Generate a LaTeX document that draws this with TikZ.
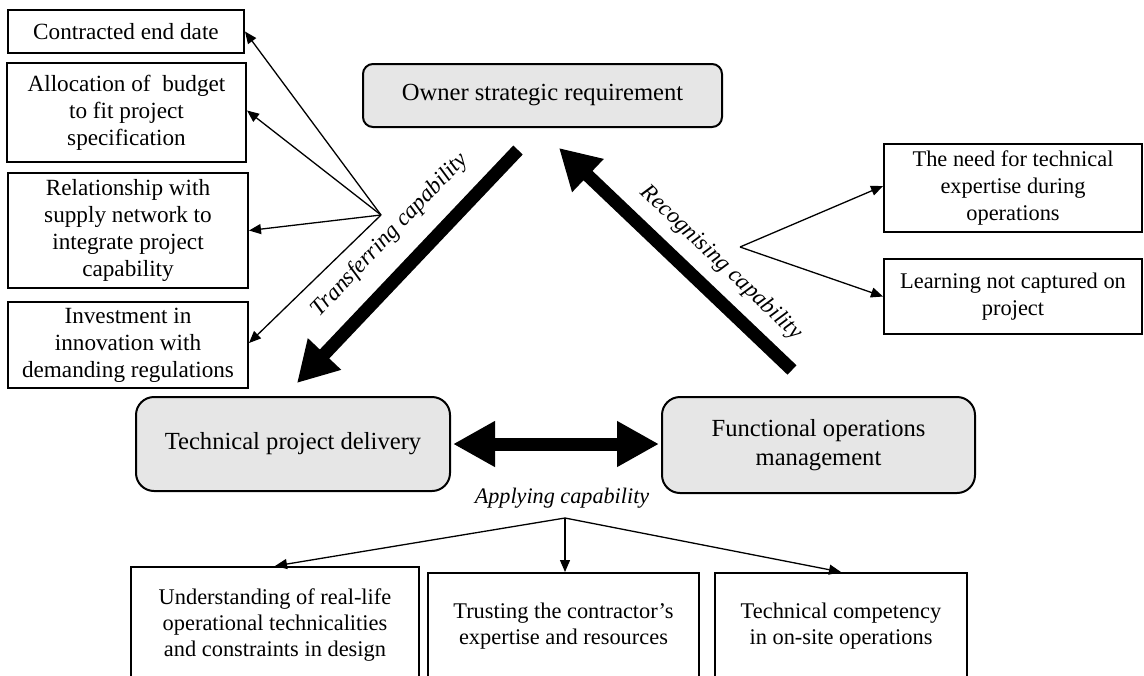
\documentclass[tikz,border=0pt]{standalone}
\usepackage{fontspec}
\setmainfont{Liberation Serif}
\usetikzlibrary{arrows.meta}
\definecolor{boxgray}{RGB}{230,230,230}
\begin{document}
\begin{tikzpicture}[x=0.5pt,y=-0.5pt,
  sqbox/.style={draw, line width=1pt, inner sep=0pt, align=center},
  leftbox/.style={sqbox, font=\fontsize{11.6}{13.5}\selectfont},
  rightbox/.style={sqbox, font=\fontsize{11.2}{13.5}\selectfont},
  botbox/.style={sqbox, font=\fontsize{11.2}{13}\selectfont},
  rbox/.style={draw, line width=1pt, fill=boxgray, inner sep=0pt, align=center,
     font=\fontsize{12.3}{14.5}\selectfont},
  thinarrow/.style={line width=0.65pt, -{Triangle[length=6pt,width=5pt]}},
  fatarrow/.style={line width=6.5pt, -{Triangle[length=20pt,width=21.5pt]}},
  dblarrow/.style={line width=6.5pt, {Triangle[length=21pt,width=21.5pt]}-{Triangle[length=21pt,width=21.5pt]}},
  lab/.style={inner sep=0pt, font=\fontsize{11.6}{13}\selectfont\itshape}]
\useasboundingbox (0,0) rectangle (1144,675);
\clip (0,0) rectangle (1144,675);

% left boxes
\node[leftbox, minimum width=118pt, minimum height=21.5pt] (ce) at (126,31.5) {Contracted end date};
\node[leftbox, minimum width=119.5pt, minimum height=49.5pt] (al) at (126.5,112.5) {Allocation of \ budget\\to fit project\\specification};
\node[leftbox, minimum width=120pt, minimum height=57.5pt] (rel) at (128,230.5) {Relationship with\\supply network to\\integrate project\\capability};
\node[leftbox, minimum width=120pt, minimum height=43pt] (inv) at (128,345) {Investment in\\innovation with\\demanding regulations};

% main boxes
\node[rbox, rounded corners=5pt, minimum width=179.5pt, minimum height=31.5pt] (own) at (542.5,95.5) {Owner strategic requirement};
\node[rbox, rounded corners=9pt, minimum width=157pt, minimum height=47pt] (tpd) at (293,444) {Technical project delivery};
\node[rbox, rounded corners=9pt, minimum width=156.5pt, minimum height=48pt] (fom) at (818.5,445) {Functional operations\\management};

% right boxes
\node[rightbox, minimum width=129pt, minimum height=44pt] (need) at (1013,188) {The need for technical\\expertise during\\operations};
\node[rightbox, minimum width=129pt, minimum height=37.5pt] (learn) at (1013,296.5) {Learning not captured on\\project};

% bottom boxes (cut by the lower edge)
\node[botbox, minimum width=144pt, minimum height=58pt] (bl) at (275,625) {Understanding of real-life\\operational technicalities\\and constraints in design};
\node[botbox, minimum width=135.5pt, minimum height=53pt] (bm) at (563.5,626) {Trusting the contractor’s\\expertise and resources};
\node[botbox, minimum width=126pt, minimum height=53pt] (br) at (841,626) {Technical competency\\in on-site operations};

% branch points and thick-arrow ends
\coordinate (lb) at (381,215);
\coordinate (rbp) at (740,247);
\coordinate (bb) at (565,518);
\coordinate (tr1) at (518,150);
\coordinate (tr2) at (297,383);
\coordinate (rc1) at (792,370);
\coordinate (rc2) at (559,148);

% thick arrows
\draw[fatarrow] (tr1) -- (tr2);
\draw[fatarrow] (rc1) -- (rc2);
\draw[dblarrow] ([xshift=1pt]tpd.east) -- ([xshift=-1pt]tpd.east -| fom.west);

% labels
\node[lab, rotate=46.5] (ltr) at (390,235) {Transferring capability};
\node[lab, rotate=-43.5] (lrc) at (721,263) {Recognising capability};
\node[lab, font=\fontsize{11.1}{13}\selectfont\itshape] (lap) at (562,498) {Applying capability};

% thin arrows
\draw[thinarrow] (lb) -- (ce.east);
\draw[thinarrow] (lb) -- ([yshift=1pt]al.east);
\draw[thinarrow] (lb) -- (rel.east);
\draw[thinarrow] (lb) -- ([yshift=1pt]inv.east);
\draw[thinarrow] (rbp) -- ([yshift=1pt]need.west);
\draw[thinarrow] (rbp) -- (learn.west);
\draw[thinarrow] (bb) -- (bl.north);
\draw[thinarrow] (bb) -- (bb |- bm.north);
\draw[thinarrow] (bb) -- (br.north);
\end{tikzpicture}
\end{document}
